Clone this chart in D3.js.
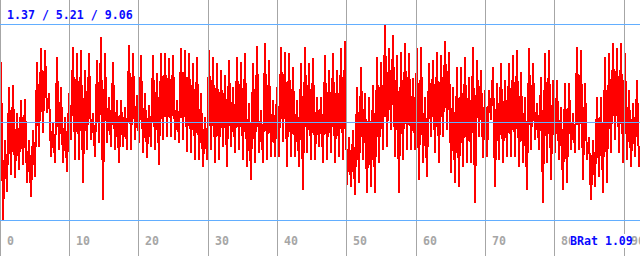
<!DOCTYPE html>
<html>
<head>
<meta charset="utf-8">
<script src="https://cdn.jsdelivr.net/npm/d3@7"></script>
<style>
  html, body { margin: 0; padding: 0; background: #fff; }
  svg { display: block; }
  text { font-family: 'DejaVu Sans Mono', monospace; font-weight: bold; font-size: 11.6px; }
</style>
</head>
<body>
<div id="chart"></div>
<script>
// signal values (two samples per 4px column block)
const part1 = [7.56,1.37, 4.50,2.46, 6.58,3.13, 6.66,3.01, 5.56,3.33, 6.07,3.52, 6.11,2.82, 4.50,2.27,
  4.90,3.05, 7.56,4.23, 8.11,4.78, 8.03,5.56, 6.35,3.84, 5.17,3.60, 7.76,4.11, 6.58,3.60,
  5.41,3.25, 6.35,4.50, 8.15,3.72, 7.92,3.72, 8.03,2.82, 7.25,4.11, 7.92,4.50, 5.56,3.84,
  7.64,4.39, 8.54,2.15, 7.92,4.39, 6.19,4.23, 7.56,4.11, 6.07,3.60, 6.07,4.23, 5.80,4.11];
const part2 = [8.23,4.11, 7.92,4.50, 6.27,4.39, 7.84,3.99, 6.35,3.80, 5.88,4.23, 7.84,4.11, 7.13,3.52,
  7.92,4.50, 7.92,4.62, 7.72,4.62, 7.84,4.50, 6.07,4.39, 8.11,4.50, 8.03,4.03, 7.92,3.99,
  7.52,3.72, 7.76,3.72, 6.35,3.44, 5.41,3.72, 8.03,4.11, 7.76,3.60, 7.52,3.72, 7.25,4.23,
  7.05,3.44, 7.64,4.23, 6.58,3.99, 7.76,4.11, 7.56,3.72, 7.92,3.44, 5.96,2.93, 7.52,3.60];
const part3 = [8.19,3.99, 5.68,3.60, 8.31,3.72, 7.64,3.84, 6.07,3.84, 6.58,3.84, 8.15,4.43, 7.96,3.44,
  7.92,3.84, 7.37,3.84, 6.07,3.44, 7.52,2.54, 8.15,3.99, 7.52,3.72, 7.72,3.72, 6.19,4.23,
  6.19,3.60, 7.84,3.72, 7.25,3.99, 7.92,3.60, 7.25,3.84, 8.11,3.72, 8.39,2.74, 4.62,2.66,
  4.90,2.35, 6.58,2.82, 7.37,3.72, 6.35,2.43, 6.19,2.66, 6.66,2.43, 7.76,3.60, 7.56,4.11];
const part4 = [9.06,4.23, 8.11,4.90, 8.62,3.84, 7.84,2.43, 7.96,3.72, 8.31,4.11, 7.92,4.11, 6.94,4.11,
  8.11,2.93, 8.15,3.60, 6.19,3.05, 7.52,4.62, 7.64,3.99, 7.96,3.60, 7.84,4.62, 8.39,4.90,
  7.96,3.21, 6.58,2.82, 7.37,2.66, 7.37,3.44, 7.76,3.60, 6.98,3.60, 8.15,2.03, 7.64,4.62,
  7.25,3.80, 6.46,3.84, 6.46,5.29, 7.37,2.66, 6.74,3.72, 7.52,3.60, 6.86,3.84, 7.52,3.84];
const part5 = [7.84,3.84, 8.03,3.44, 7.17,3.60, 6.19,2.54, 8.11,4.11, 7.52,4.50, 5.96,4.11, 6.98,2.03,
  7.92,3.60, 8.03,2.93, 6.86,3.99, 6.86,3.72, 5.80,2.54, 6.74,2.82, 6.74,4.11, 5.56,3.99,
  8.15,4.11, 8.03,2.93, 6.74,3.72, 4.62,2.15, 4.50,2.66, 6.19,3.05, 6.19,2.43, 7.76,2.82,
  7.92,3.99, 8.31,4.50, 8.11,3.99, 8.31,3.60, 7.92,3.72, 6.46,3.44, 5.96,3.84, 6.86,3.44];
const values = part1.concat(part2, part3, part4, part5);

const xTicks = [0, 10, 20, 30, 40, 50, 60, 70, 80, 90];
const levels = [1.37, 5.21, 9.06];   // min / mean / max
const sampleStep = 90 / 312;          // x units between samples
const headline = '1.37 / 5.21 / 9.06';
const footer = 'BRat 1.09';

const w = 640, h = 256;

const svg = d3.select('#chart')
  .append('svg')
  .attr('width', w)
  .attr('height', h);

const xScale = d3.scaleLinear().domain([0, 90]).range([0, 624]);
const yScale = d3.scaleLinear().domain([levels[0], levels[2]]).range([220, 24]);

const line = d3.line()
  .x((d, i) => Math.round(xScale(i * sampleStep)) + 1)
  .y(d => Math.round(yScale(d)));

svg.append('path')
  .datum(values)
  .attr('d', line)
  .attr('fill', 'none')
  .attr('stroke', '#ff0000')
  .attr('stroke-width', 2)
  .attr('stroke-linejoin', 'miter')
  .attr('stroke-miterlimit', 1)
  .attr('shape-rendering', 'crispEdges');

// vertical grid
svg.selectAll('line.vgrid')
  .data(xTicks)
  .enter()
  .append('line')
  .attr('class', 'vgrid')
  .attr('x1', d => Math.floor(xScale(d)) + 0.5)
  .attr('x2', d => Math.floor(xScale(d)) + 0.5)
  .attr('y1', 0)
  .attr('y2', h)
  .attr('stroke', '#a6a6a6')
  .attr('shape-rendering', 'crispEdges');

// horizontal levels
svg.selectAll('line.hgrid')
  .data(levels)
  .enter()
  .append('line')
  .attr('class', 'hgrid')
  .attr('x1', 0)
  .attr('x2', w)
  .attr('y1', d => Math.round(yScale(d)) + 0.5)
  .attr('y2', d => Math.round(yScale(d)) + 0.5)
  .attr('stroke', '#62aeff')
  .attr('shape-rendering', 'crispEdges');

svg.selectAll('text.tick')
  .data(xTicks)
  .enter()
  .append('text')
  .attr('class', 'tick')
  .attr('x', d => Math.floor(xScale(d)) + 7)
  .attr('y', 245)
  .attr('fill', '#a6a6a6')
  .text(d => d);

svg.append('text')
  .attr('x', 7)
  .attr('y', 19)
  .attr('fill', '#0a0aff')
  .text(headline);

const foot = svg.append('text')
  .attr('x', 570)
  .attr('y', 245)
  .attr('fill', '#0a0aff')
  .text(footer);

const bb = foot.node().getBBox();
svg.insert('rect', () => foot.node())
  .attr('x', bb.x)
  .attr('y', bb.y)
  .attr('width', bb.width - 1)
  .attr('height', bb.height)
  .attr('fill', '#fff');
</script>
</body>
</html>
